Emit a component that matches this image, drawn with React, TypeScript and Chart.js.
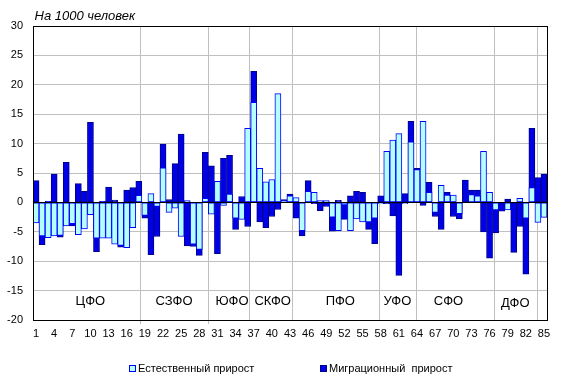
import React, { useEffect, useRef } from 'react';
import { Chart, registerables } from 'chart.js';

Chart.register(...registerables);

const regions = [
  '1','2','3','4','5','6','7','8','9','10','11','12','13','14','15','16','17','18','19','20',
  '21','22','23','24','25','26','27','28','29','30','31','32','33','34','35','36','37','38','39','40',
  '41','42','43','44','45','46','47','48','49','50','51','52','53','54','55','56','57','58','59','60',
  '61','62','63','64','65','66','67','68','69','70','71','72','73','74','75','76','77','78','79','80',
  '81','82','83','84','85',
];

// Естественный прирост (на 1000 человек)
const natural = [
  -3.5, -5.7, -6.0, -5.7, -5.6, -4.0, -3.6, -5.5, -4.5, -2.1,
  -6.1, -6.1, -6.1, -7.1, -7.3, -7.7, -4.3, 1.2, -2.2, 1.5,
  -0.7, 5.9, -1.7, -1.0, -5.8, 0.3, -7.1, -8.0, 0.7, -2.0,
  3.6, -0.5, 1.4, -2.7, -2.9, 12.6, 17.0, 5.8, 3.5, 3.9,
  18.5, 0.2, 1.1, 0.8, -4.8, 1.9, 1.7, 0.3, 0.3, -2.5,
  -4.8, -0.4, -4.8, -2.8, -3.3, -3.3, -2.7, -0.2, 8.7, 10.6,
  11.7, -0.2, 10.3, 5.6, 13.8, 1.7, -1.7, 2.9, 1.25, 1.25,
  -1.9, 0.0, 1.35, 1.1, 8.7, 1.7, -1.3, 0.0, -1.3, 0.0,
  0.7, -2.7, 2.5, -3.4, -2.55,
];

// Миграционный прирост (на 1000 человек)
const migration = [
  3.7, -7.2, 0.2, 4.8, -5.9, 6.8, -4.0, 3.2, 1.9, 13.6,
  -8.4, 0.2, 2.6, 0.4, -7.6, 2.1, 2.5, 3.6, -2.7, -8.9,
  -5.8, 9.9, 0.5, 6.6, 11.6, -7.4, -7.5, -9.0, 8.5, 6.2,
  -8.7, 7.5, 8.0, -4.6, 1.0, -4.1, 22.3, -3.3, -4.3, -2.4,
  -1.2, 0.5, 1.4, -2.7, -5.7, 3.7, -0.2, -1.4, -0.7, -4.9,
  0.35, -2.9, 1.1, 1.9, 1.7, -4.6, -7.0, 1.1, -0.2, -2.3,
  -12.4, 1.5, 13.8, 5.8, -0.5, 3.4, -2.4, -4.6, 1.7, -2.4,
  -2.8, 3.8, 2.1, 2.1, -5.0, -9.5, -5.2, -1.5, 0.55, -8.5,
  -4.1, -12.2, 12.6, 4.2, 4.8,
];

const seriesNames = ['Естественный прирост', 'Миграционный  прирост'];
const unitTitle = 'На 1000 человек';

const yMin = -20;
const yMax = 30;
const yStep = 5;

const districts = ['ЦФО', 'СЗФО', 'ЮФО', 'СКФО', 'ПФО', 'УФО', 'СФО', 'ДФО'];
// label centres, in category widths from the left edge of the plot
const districtCenters = [9.49, 23.32, 32.91, 39.64, 50.82, 60.26, 68.71, 79.76];
const districtLabelValue = [-16.8, -16.8, -16.8, -16.8, -16.8, -16.8, -16.8, -17.1];
// divider lines, in category widths from the left edge of the plot
const dividers = [17.69, 28.96, 35.71, 42.85, 57.17, 63.35, 76.24, 83.35];

const FONT = '"Liberation Sans", Arial, sans-serif';
const CYAN = '#b3ffff';
const CYAN_BORDER = '#0000ff';
const BLUE = '#0000e6';
const BLUE_BORDER = '#00008a';
const GRID = '#c0c0c0';

const decorPlugin = {
  id: 'decor',
  beforeDatasetsDraw(chart: any) {
    const { ctx, chartArea } = chart;
    const w = chartArea.width / regions.length;
    ctx.save();
    ctx.strokeStyle = GRID;
    ctx.lineWidth = 1;
    dividers.forEach((d, i) => {
      const x = Math.round(chartArea.left + d * w) + 0.5;
      ctx.beginPath();
      ctx.moveTo(x, chartArea.top);
      ctx.lineTo(x, chartArea.bottom + (i < 2 ? 4 : 0));
      ctx.stroke();
    });
    ctx.restore();
  },
  afterDatasetsDraw(chart: any) {
    const { ctx, chartArea, scales } = chart;
    const y = scales.y;
    const w = chartArea.width / regions.length;
    ctx.save();
    // zero line
    const y0 = Math.round(y.getPixelForValue(0)) + 0.5;
    ctx.strokeStyle = '#000';
    ctx.lineWidth = 1;
    ctx.beginPath();
    ctx.moveTo(chartArea.left, y0);
    ctx.lineTo(chartArea.right, y0);
    ctx.stroke();
    // frame
    const l = Math.round(chartArea.left) + 0.5;
    const t = Math.round(chartArea.top) + 0.5;
    const r = Math.round(chartArea.right) + 0.5;
    const b = Math.round(chartArea.bottom) + 0.5;
    ctx.strokeRect(l, t, r - l, b - t);
    // district labels
    ctx.fillStyle = '#000';
    ctx.font = `13px ${FONT}`;
    ctx.textAlign = 'center';
    ctx.textBaseline = 'middle';
    districts.forEach((name, i) => {
      ctx.fillText(name, chartArea.left + districtCenters[i] * w, y.getPixelForValue(districtLabelValue[i]));
    });
    // title
    ctx.font = `italic 13px ${FONT}`;
    ctx.textAlign = 'left';
    ctx.textBaseline = 'alphabetic';
    ctx.fillText(unitTitle, 34.5, 20);
    // legend
    ctx.font = `11px ${FONT}`;
    ctx.textBaseline = 'middle';
    const ly = 369;
    ctx.fillStyle = CYAN;
    ctx.fillRect(130, ly - 3, 5, 5);
    ctx.strokeStyle = CYAN_BORDER;
    ctx.strokeRect(129.5, ly - 3.5, 6, 6);
    ctx.fillStyle = '#000';
    ctx.fillText(seriesNames[0], 138, ly);
    ctx.fillStyle = BLUE;
    ctx.fillRect(321, ly - 3, 5, 5);
    ctx.strokeStyle = BLUE_BORDER;
    ctx.strokeRect(320.5, ly - 3.5, 6, 6);
    ctx.fillStyle = '#000';
    ctx.fillText(seriesNames[1], 329, ly);
    ctx.restore();
  },
};

export default function App() {
  const ref = useRef<HTMLCanvasElement | null>(null);
  useEffect(() => {
    if (!ref.current) return;
    Chart.defaults.font.family = FONT;
    const chart = new Chart(ref.current, {
      type: 'bar',
      data: {
        labels: regions,
        datasets: [
          {
            label: seriesNames[0],
            data: natural,
            backgroundColor: CYAN,
            borderColor: CYAN_BORDER,
            borderWidth: 1,
            borderSkipped: false,
            grouped: false,
            barPercentage: 1,
            categoryPercentage: 1,
          } as any,
          {
            label: seriesNames[1],
            data: migration,
            backgroundColor: BLUE,
            borderColor: BLUE_BORDER,
            borderWidth: 1,
            borderSkipped: false,
            grouped: false,
            barPercentage: 1,
            categoryPercentage: 1,
          } as any,
        ],
      },
      options: {
        animation: false,
        responsive: false,
        maintainAspectRatio: false,
        devicePixelRatio: 1,
        layout: { padding: { left: 0, right: 14, top: 26, bottom: 0 } },
        plugins: {
          legend: { display: false },
          tooltip: { enabled: false },
        },
        scales: {
          x: {
            grid: { display: false, drawTicks: false },
            border: { display: false },
            ticks: {
              autoSkip: false,
              maxRotation: 0,
              minRotation: 0,
              padding: 7,
              color: '#000',
              font: { size: 11, family: FONT },
              callback: (_v: any, i: number) => (i % 3 === 0 ? regions[i] : ''),
            },
            afterFit: (s: any) => {
              s.height = 71;
              s.paddingLeft = 0;
              s.paddingRight = 0;
            },
          },
          y: {
            min: yMin,
            max: yMax,
            grid: {
              color: GRID,
              drawTicks: false,
            },
            border: { display: false },
            ticks: {
              stepSize: yStep,
              padding: 10,
              color: '#000',
              font: { size: 11, family: FONT },
            },
            afterFit: (s: any) => {
              s.width = 33;
              s.paddingTop = 0;
              s.paddingBottom = 0;
            },
          },
        },
      } as any,
      plugins: [decorPlugin],
    });
    return () => chart.destroy();
  }, []);
  return (
    <div style={{ position: 'absolute', left: 0, top: 0, width: 561, height: 391, background: '#fff' }}>
      <canvas ref={ref} width={561} height={391} />
    </div>
  );
}
